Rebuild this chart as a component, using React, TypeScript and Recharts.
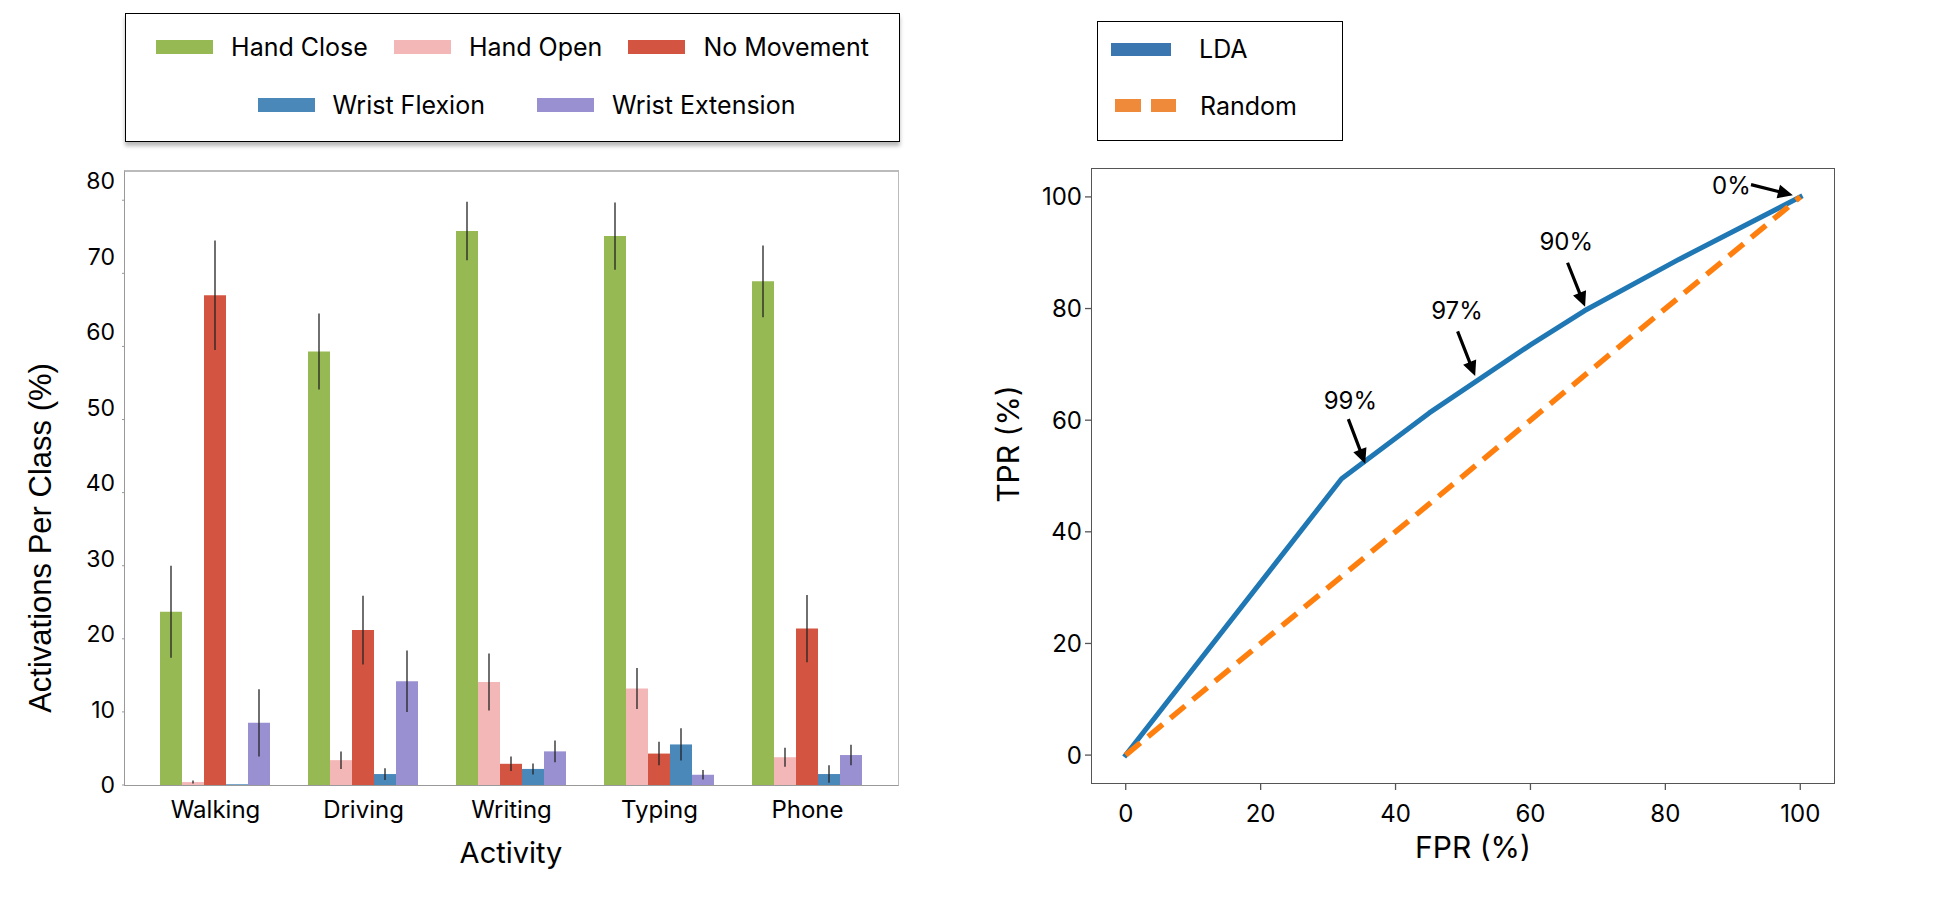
import React from 'react';
import { BarChart, Bar, ErrorBar, XAxis, YAxis, LineChart, Line, ReferenceLine, ReferenceDot } from 'recharts';

// ---- left panel: activations per class ----
const activities = ['Walking', 'Driving', 'Writing', 'Typing', 'Phone'];
const handClose = [23.7, 59.3, 75.8, 75.1, 68.9];
const handCloseErr = [6.3, 5.2, 4.0, 4.6, 4.9];
const handOpen = [0.4, 3.4, 14.1, 13.2, 3.8];
const handOpenErr = [0.2, 1.2, 3.9, 2.8, 1.3];
const noMovement = [67.0, 21.2, 2.9, 4.3, 21.4];
const noMovementErr = [7.5, 4.7, 1.0, 1.6, 4.6];
const wristFlexion = [0.1, 1.5, 2.2, 5.55, 1.5];
const wristFlexionErr = [0, 0.8, 0.75, 2.2, 1.2];
const wristExtension = [8.5, 14.2, 4.6, 1.4, 4.1];
const wristExtensionErr = [4.6, 4.2, 1.5, 0.65, 1.4];
const barTicks = [0, 10, 20, 30, 40, 50, 60, 70, 80];

const barSeries = [
  { key: 'handClose', name: 'Hand Close', color: '#97b954', values: handClose, err: handCloseErr },
  { key: 'handOpen', name: 'Hand Open', color: '#f4b7b7', values: handOpen, err: handOpenErr },
  { key: 'noMovement', name: 'No Movement', color: '#d35541', values: noMovement, err: noMovementErr },
  { key: 'wristFlexion', name: 'Wrist Flexion', color: '#4b88ba', values: wristFlexion, err: wristFlexionErr },
  { key: 'wristExtension', name: 'Wrist Extension', color: '#9990d2', values: wristExtension, err: wristExtensionErr },
];

// ---- right panel: ROC ----
const ldaFpr = [0, 32, 45, 60, 68, 82, 100];
const ldaTpr = [0, 49.5, 61.3, 73.5, 79.6, 88.8, 100];
const randomFpr = [0, 100];
const randomTpr = [0, 100];
const rocTicks = [0, 20, 40, 60, 80, 100];

const noteLabels = ['99%', '97%', '90%', '0%'];
const noteTextAt = [[33.3, 63.6], [49.1, 79.6], [65.3, 92], [89.8, 102]];
const noteArrowFrom = [[33.0, 60.2], [49.2, 75.9], [65.5, 88.2], [92.7, 102.2]];
const noteArrowTo = [[35.5, 52.2], [51.8, 67.9], [68.1, 80.3], [98.9, 100.3]];

const barRows = activities.map((activity, i) => {
  const row: any = { activity };
  barSeries.forEach((s) => {
    row[s.key] = s.values[i];
    row[s.key + 'Err'] = s.err[i];
  });
  return row;
});
const ldaRows = ldaFpr.map((fpr, i) => ({ fpr, tpr: ldaTpr[i] }));
const randomRows = randomFpr.map((fpr, i) => ({ fpr, tpr: randomTpr[i] }));

const inter = 'Inter, "DejaVu Sans", sans-serif';
const helv = '"Liberation Sans", Arial, sans-serif';

// the original's y labels drift upward a little as the value grows
const DriftTick = (props: any) => {
  const { x, y, payload } = props;
  return (
    <text x={x} y={y - payload.value * 0.24} dy="0.355em" textAnchor="end" fontSize={23} fontFamily={inter} fill="#000">
      {payload.value}
    </text>
  );
};

const ArrowShape = (props: any) => {
  const { x1, y1, x2, y2 } = props;
  const dx = x2 - x1;
  const dy = y2 - y1;
  const len = Math.hypot(dx, dy) || 1;
  const ux = dx / len;
  const uy = dy / len;
  const px = -uy;
  const py = ux;
  const head = 15;
  const half = 7;
  const shaft = 1.6;
  const bx = x2 - ux * head;
  const by = y2 - uy * head;
  const pts = [
    [x1 + px * shaft, y1 + py * shaft],
    [bx + px * shaft, by + py * shaft],
    [bx + px * half, by + py * half],
    [x2, y2],
    [bx - px * half, by - py * half],
    [bx - px * shaft, by - py * shaft],
    [x1 - px * shaft, y1 - py * shaft],
  ];
  return <polygon points={pts.map((p) => p.join(',')).join(' ')} fill="#000" />;
};

const noteShape = (label: string) => (props: any) => (
  <text x={props.cx} y={props.cy} dy="0.36em" textAnchor="middle" fontSize={24} fontFamily={inter} fill="#000">
    {label}
  </text>
);

const Swatch = ({ color }: { color: string }) => (
  <span style={{ display: 'inline-block', width: 57, height: 14, background: color, marginRight: 18 }} />
);

const abs = (left: number, top: number, extra: React.CSSProperties = {}): React.CSSProperties => ({
  position: 'absolute',
  left,
  top,
  ...extra,
});

const Title = ({ x, y, text, size, family, rotate }: any) => (
  <div
    style={abs(x, y, {
      transform: `translate(-50%, -50%)${rotate ? ' rotate(-90deg)' : ''}`,
      fontSize: size,
      fontFamily: family,
      lineHeight: 1,
      whiteSpace: 'nowrap',
      color: '#000',
    })}
  >
    {text}
  </div>
);

export default function App() {
  return (
    <div style={abs(0, 0, { width: 1945, height: 897, background: '#fff', overflow: 'hidden' })}>
      {/* left legend */}
      <div
        style={abs(125, 13, {
          width: 775,
          height: 129,
          boxSizing: 'border-box',
          border: '1.5px solid #000',
          boxShadow: '0 4px 4px rgba(0,0,0,0.28)',
          fontFamily: inter,
          fontSize: 25,
        })}
      >
        <div style={abs(0, 19, { width: '100%', display: 'flex', justifyContent: 'center', alignItems: 'center', gap: 26, lineHeight: '28px' })}>
          {barSeries.slice(0, 3).map((s) => (
            <span key={s.key} style={{ display: 'flex', alignItems: 'center' }}>
              <Swatch color={s.color} />
              {s.name}
            </span>
          ))}
        </div>
        <div style={abs(26, 77, { width: 749, display: 'flex', justifyContent: 'center', alignItems: 'center', gap: 52, lineHeight: '28px' })}>
          {barSeries.slice(3).map((s) => (
            <span key={s.key} style={{ display: 'flex', alignItems: 'center' }}>
              <Swatch color={s.color} />
              {s.name}
            </span>
          ))}
        </div>
      </div>

      <div style={abs(0, 0)}>
        <BarChart
          width={960}
          height={897}
          data={barRows}
          margin={{ top: 171, right: 62, bottom: 82, left: 65 }}
          barCategoryGap={18.5}
          barGap={0}
        >
          <XAxis
            dataKey="activity"
            interval={0}
            axisLine={false}
            tickLine={false}
            tickMargin={10}
            padding={{ left: 16.5, right: 16.5 }}
            tick={{ fontSize: 24, fontFamily: inter, fill: '#000' }}
          />
          <YAxis
            width={60}
            domain={[0, 84]}
            ticks={barTicks}
            axisLine={false}
            tickSize={3}
            tickMargin={7}
            tickLine={{ stroke: '#999' }}
            tick={<DriftTick />}
          />
          {barSeries.map((s) => (
            <Bar key={s.key} dataKey={s.key} name={s.name} fill={s.color} isAnimationActive={false}>
              <ErrorBar dataKey={s.key + 'Err'} width={0} stroke="#222" strokeWidth={1.3} direction="y" />
            </Bar>
          ))}
        </BarChart>
      </div>
      <div
        style={abs(124, 170, {
          width: 775,
          height: 616,
          boxSizing: 'border-box',
          borderLeft: '1.5px solid #999',
          borderBottom: '1.5px solid #999',
          borderTop: '2px solid #bbb',
          borderRight: '1px solid #bbb',
          pointerEvents: 'none',
        })}
      />
      <Title x={40} y={538} text="Activations Per Class (%)" size={31} family={helv} rotate />
      <Title x={511} y={852} text="Activity" size={29} family={inter} />

      {/* right legend */}
      <div
        style={abs(1097, 21, {
          width: 246,
          height: 120,
          boxSizing: 'border-box',
          border: '1.5px solid #000',
          fontFamily: inter,
          fontSize: 25,
        })}
      >
        <div style={abs(13, 21, { width: 60, height: 13, background: '#3b76b0' })} />
        <div style={abs(101, 13, { lineHeight: '28px' })}>LDA</div>
        <div style={abs(17, 77, { width: 26, height: 13, background: '#f08a3b' })} />
        <div style={abs(53, 77, { width: 25, height: 13, background: '#f08a3b' })} />
        <div style={abs(102, 70, { lineHeight: '28px' })}>Random</div>
      </div>

      <div style={abs(960, 0)}>
        <LineChart width={985} height={897} margin={{ top: 169, right: 111, bottom: 84, left: 72 }}>
          <XAxis
            type="number"
            dataKey="fpr"
            domain={[-5, 105]}
            ticks={rocTicks}
            axisLine={false}
            tickSize={7}
            tickMargin={15}
            tickLine={{ stroke: '#555', strokeWidth: 1.3 }}
            tick={{ fontSize: 24, fontFamily: inter, fill: '#000' }}
          />
          <YAxis
            type="number"
            dataKey="tpr"
            width={60}
            domain={[-5, 105]}
            ticks={rocTicks}
            axisLine={false}
            tickSize={7}
            tickMargin={3}
            tickLine={{ stroke: '#555', strokeWidth: 1.3 }}
            tick={{ fontSize: 24, fontFamily: inter, fill: '#000' }}
          />
          <Line
            data={ldaRows}
            dataKey="tpr"
            name="LDA"
            stroke="#1f77b4"
            strokeWidth={5}
            strokeLinejoin="round"
            strokeLinecap="square"
            dot={false}
            isAnimationActive={false}
          />
          <Line
            data={randomRows}
            dataKey="tpr"
            name="Random"
            stroke="#ff7f0e"
            strokeWidth={5.5}
            strokeDasharray="19 10"
            dot={false}
            isAnimationActive={false}
          />
          {noteLabels.map((label, i) => (
            <ReferenceLine
              key={'arrow' + label}
              segment={[
                { x: noteArrowFrom[i][0], y: noteArrowFrom[i][1] },
                { x: noteArrowTo[i][0], y: noteArrowTo[i][1] },
              ]}
              shape={<ArrowShape />}
            />
          ))}
          {noteLabels.map((label, i) => (
            <ReferenceDot key={'note' + label} x={noteTextAt[i][0]} y={noteTextAt[i][1]} r={1} shape={noteShape(label)} />
          ))}
        </LineChart>
      </div>
      <div
        style={abs(1091.25, 168.25, {
          width: 743.5,
          height: 615.5,
          boxSizing: 'border-box',
          border: '1.5px solid #555',
          pointerEvents: 'none',
        })}
      />
      <Title x={1008} y={444} text="TPR (%)" size={30} family={inter} rotate />
      <Title x={1473} y={847} text="FPR (%)" size={30} family={inter} />
    </div>
  );
}
